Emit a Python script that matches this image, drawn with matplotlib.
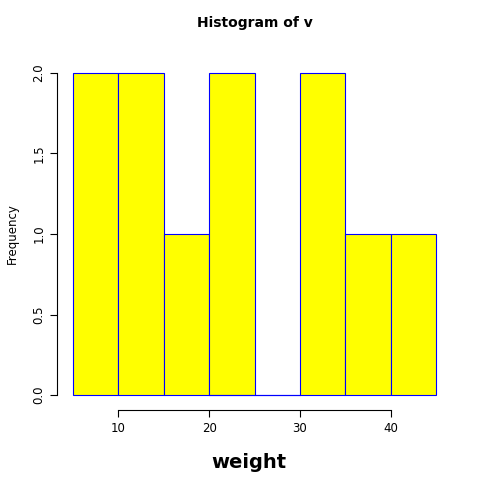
import numpy as np
import matplotlib
matplotlib.use("Agg")
import matplotlib.pyplot as plt

bin_edges = [5, 10, 15, 20, 25, 30, 35, 40, 45]
counts = [2, 2, 1, 2, 0, 2, 1, 1]

fig = plt.figure(figsize=(4.94, 4.96), dpi=100)
ax = fig.add_axes([57 / 494, 86 / 496, 395 / 494, 352 / 496])

lefts = np.array(bin_edges[:-1])
widths = np.diff(bin_edges)
ax.bar(lefts, counts, width=widths, align="edge", color="yellow",
       edgecolor="blue", linewidth=0.8)
ax.plot([20, 30], [0, 0], color="blue", lw=0.8)

ax.set_xlim(3.237, 46.76)
ax.set_ylim(-0.093, 2.093)
for s in ["top", "right"]:
    ax.spines[s].set_visible(False)
ax.spines["left"].set_bounds(0, 2)
ax.spines["bottom"].set_bounds(10, 40)
ax.set_xticks([10, 20, 30, 40])
ax.set_yticks([0, 0.5, 1.0, 1.5, 2.0])
ax.set_yticklabels(["0.0", "0.5", "1.0", "1.5", "2.0"], rotation=90, va="center")
ax.tick_params(labelsize=8.5, length=5)

ax.set_title("Histogram of v", fontsize=10, fontweight="bold", pad=22)
fig.text(249 / 494, 1 - 463 / 496, "weight", fontsize=14, fontweight="bold",
         ha="center", va="center")
fig.text(12 / 494, 1 - 234 / 496, "Frequency", fontsize=8.5, rotation=90,
         ha="center", va="center")

fig.savefig("out.png", dpi=100)
